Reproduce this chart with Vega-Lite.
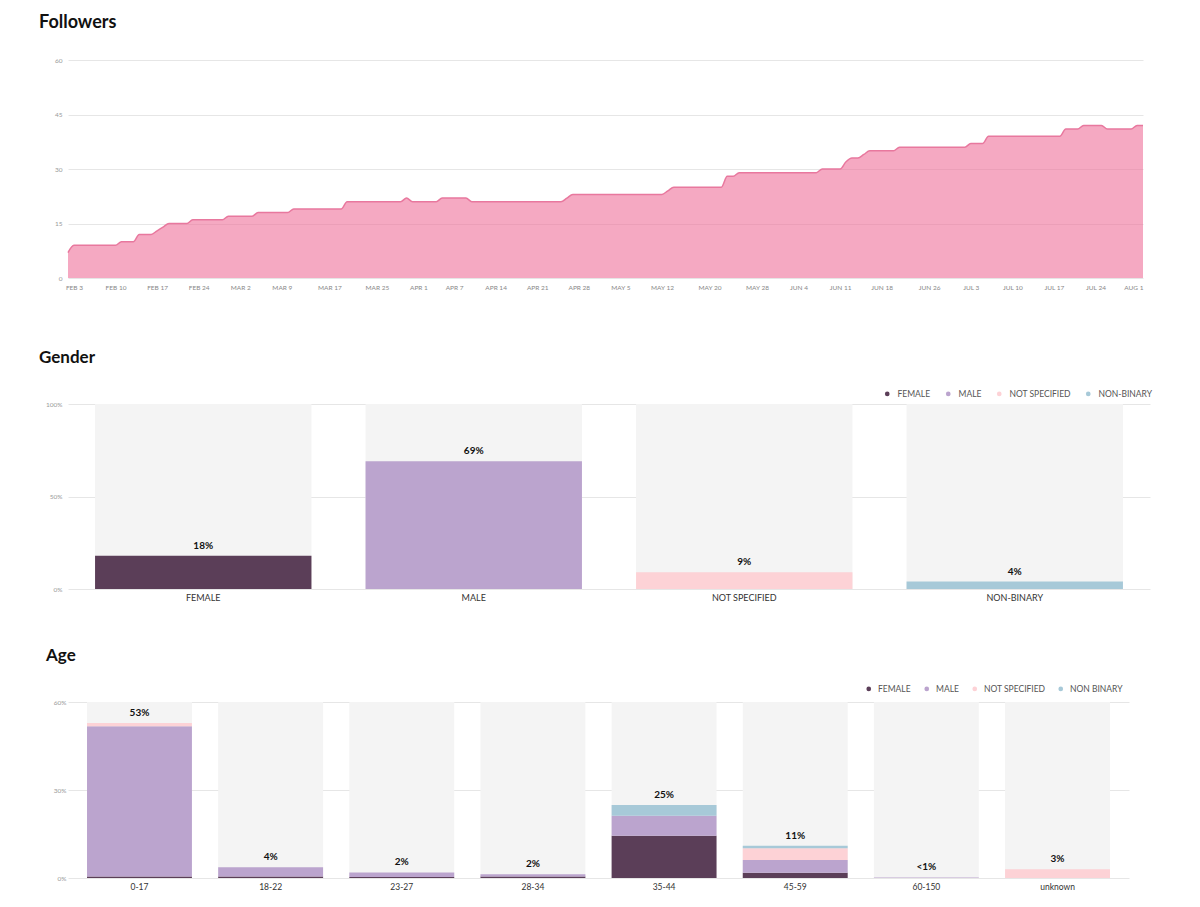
{
  "$schema": "https://vega.github.io/schema/vega-lite/v6.json",
  "background": "white",
  "padding": {"left": 39, "top": 14, "right": 5, "bottom": 5},
  "spacing": 40,
  "config": {"view": {"stroke": null}, "font": "Lato"},
  "resolve": {"scale": {"color": "independent"}, "legend": {"color": "independent"}},
  "datasets": {
    "followers": [
      {"date": "2020-02-02", "followers": 7},
      {"date": "2020-02-03", "followers": 9},
      {"date": "2020-02-10", "followers": 9},
      {"date": "2020-02-11", "followers": 10},
      {"date": "2020-02-13", "followers": 10},
      {"date": "2020-02-14", "followers": 12},
      {"date": "2020-02-16", "followers": 12},
      {"date": "2020-02-17", "followers": 13},
      {"date": "2020-02-18", "followers": 14},
      {"date": "2020-02-19", "followers": 15},
      {"date": "2020-02-22", "followers": 15},
      {"date": "2020-02-23", "followers": 16},
      {"date": "2020-02-28", "followers": 16},
      {"date": "2020-02-29", "followers": 17},
      {"date": "2020-03-04", "followers": 17},
      {"date": "2020-03-05", "followers": 18},
      {"date": "2020-03-10", "followers": 18},
      {"date": "2020-03-11", "followers": 19},
      {"date": "2020-03-19", "followers": 19},
      {"date": "2020-03-20", "followers": 21},
      {"date": "2020-03-29", "followers": 21},
      {"date": "2020-03-30", "followers": 22},
      {"date": "2020-03-31", "followers": 21},
      {"date": "2020-04-04", "followers": 21},
      {"date": "2020-04-05", "followers": 22},
      {"date": "2020-04-09", "followers": 22},
      {"date": "2020-04-10", "followers": 21},
      {"date": "2020-04-25", "followers": 21},
      {"date": "2020-04-26", "followers": 22},
      {"date": "2020-04-27", "followers": 23},
      {"date": "2020-05-12", "followers": 23},
      {"date": "2020-05-13", "followers": 24},
      {"date": "2020-05-14", "followers": 25},
      {"date": "2020-05-22", "followers": 25},
      {"date": "2020-05-23", "followers": 28},
      {"date": "2020-05-24", "followers": 28},
      {"date": "2020-05-25", "followers": 29},
      {"date": "2020-06-07", "followers": 29},
      {"date": "2020-06-08", "followers": 30},
      {"date": "2020-06-11", "followers": 30},
      {"date": "2020-06-12", "followers": 32},
      {"date": "2020-06-13", "followers": 33},
      {"date": "2020-06-14", "followers": 33},
      {"date": "2020-06-15", "followers": 34},
      {"date": "2020-06-16", "followers": 35},
      {"date": "2020-06-20", "followers": 35},
      {"date": "2020-06-21", "followers": 36},
      {"date": "2020-07-02", "followers": 36},
      {"date": "2020-07-03", "followers": 37},
      {"date": "2020-07-05", "followers": 37},
      {"date": "2020-07-06", "followers": 39},
      {"date": "2020-07-18", "followers": 39},
      {"date": "2020-07-19", "followers": 41},
      {"date": "2020-07-21", "followers": 41},
      {"date": "2020-07-22", "followers": 42},
      {"date": "2020-07-25", "followers": 42},
      {"date": "2020-07-26", "followers": 41},
      {"date": "2020-07-30", "followers": 41},
      {"date": "2020-07-31", "followers": 42},
      {"date": "2020-08-01", "followers": 42}
    ],
    "gender": [
      {"gender": "FEMALE", "pct": 18, "label": "18%"},
      {"gender": "MALE", "pct": 69, "label": "69%"},
      {"gender": "NOT SPECIFIED", "pct": 9, "label": "9%"},
      {"gender": "NON-BINARY", "pct": 4, "label": "4%"}
    ],
    "age": [
      {"age": "0-17", "gender": "FEMALE", "pct": 0.5},
      {"age": "0-17", "gender": "MALE", "pct": 51.2},
      {"age": "0-17", "gender": "NOT SPECIFIED", "pct": 1.1},
      {"age": "18-22", "gender": "FEMALE", "pct": 0.5},
      {"age": "18-22", "gender": "MALE", "pct": 3.2},
      {"age": "23-27", "gender": "FEMALE", "pct": 0.3},
      {"age": "23-27", "gender": "MALE", "pct": 1.6},
      {"age": "28-34", "gender": "FEMALE", "pct": 0.5},
      {"age": "28-34", "gender": "MALE", "pct": 0.8},
      {"age": "35-44", "gender": "FEMALE", "pct": 14.4},
      {"age": "35-44", "gender": "MALE", "pct": 6.8},
      {"age": "35-44", "gender": "NON BINARY", "pct": 3.7},
      {"age": "45-59", "gender": "FEMALE", "pct": 1.8},
      {"age": "45-59", "gender": "MALE", "pct": 4.3},
      {"age": "45-59", "gender": "NOT SPECIFIED", "pct": 4.0},
      {"age": "45-59", "gender": "NON BINARY", "pct": 0.9},
      {"age": "60-150", "gender": "MALE", "pct": 0.2},
      {"age": "unknown", "gender": "NOT SPECIFIED", "pct": 3.0}
    ],
    "ageTotals": [
      {"age": "0-17", "total": 52.8, "label": "53%"},
      {"age": "18-22", "total": 3.7, "label": "4%"},
      {"age": "23-27", "total": 1.9, "label": "2%"},
      {"age": "28-34", "total": 1.3, "label": "2%"},
      {"age": "35-44", "total": 24.9, "label": "25%"},
      {"age": "45-59", "total": 11.0, "label": "11%"},
      {"age": "60-150", "total": 0.2, "label": "<1%"},
      {"age": "unknown", "total": 3.0, "label": "3%"}
    ]
  },
  "vconcat": [
    {
      "title": {"text": "Followers", "anchor": "start", "frame": "group", "dx": -29, "offset": 25, "fontSize": 18, "fontWeight": 700, "font": "Lato", "color": "#111111", "baseline": "top"},
      "width": 1075,
      "height": 218,
      "data": {"name": "followers"},
      "mark": {"type": "area", "interpolate": "monotone", "color": "#EE709A", "fillOpacity": 0.6, "line": {"color": "#E8789E", "strokeWidth": 1.5}},
      "encoding": {
        "x": {
          "field": "date", "type": "temporal", "title": null,
          "scale": {"type": "utc"},
          "axis": {
            "values": [
              {"year": 2020, "month": 2, "date": 3, "utc": true},
              {"year": 2020, "month": 2, "date": 10, "utc": true},
              {"year": 2020, "month": 2, "date": 17, "utc": true},
              {"year": 2020, "month": 2, "date": 24, "utc": true},
              {"year": 2020, "month": 3, "date": 2, "utc": true},
              {"year": 2020, "month": 3, "date": 9, "utc": true},
              {"year": 2020, "month": 3, "date": 17, "utc": true},
              {"year": 2020, "month": 3, "date": 25, "utc": true},
              {"year": 2020, "month": 4, "date": 1, "utc": true},
              {"year": 2020, "month": 4, "date": 7, "utc": true},
              {"year": 2020, "month": 4, "date": 14, "utc": true},
              {"year": 2020, "month": 4, "date": 21, "utc": true},
              {"year": 2020, "month": 4, "date": 28, "utc": true},
              {"year": 2020, "month": 5, "date": 5, "utc": true},
              {"year": 2020, "month": 5, "date": 12, "utc": true},
              {"year": 2020, "month": 5, "date": 20, "utc": true},
              {"year": 2020, "month": 5, "date": 28, "utc": true},
              {"year": 2020, "month": 6, "date": 4, "utc": true},
              {"year": 2020, "month": 6, "date": 11, "utc": true},
              {"year": 2020, "month": 6, "date": 18, "utc": true},
              {"year": 2020, "month": 6, "date": 26, "utc": true},
              {"year": 2020, "month": 7, "date": 3, "utc": true},
              {"year": 2020, "month": 7, "date": 10, "utc": true},
              {"year": 2020, "month": 7, "date": 17, "utc": true},
              {"year": 2020, "month": 7, "date": 24, "utc": true},
              {"year": 2020, "month": 8, "date": 1, "utc": true}
            ],
            "labelExpr": "upper(utcFormat(datum.value, '%b %-d'))",
            "grid": false, "ticks": false, "domain": false,
            "labelFontSize": 6.5, "labelColor": "#888888", "labelPadding": 6,
            "labelFlush": 2, "labelOverlap": false, "labelBound": false,
            "minExtent": 30
          }
        },
        "y": {
          "field": "followers", "type": "quantitative", "title": null,
          "scale": {"domain": [0, 60]},
          "axis": {
            "values": [0, 15, 30, 45, 60],
            "grid": true, "gridColor": "#e6e6e6", "ticks": false, "domain": false,
            "labelFontSize": 6.5, "labelColor": "#999999", "labelPadding": 6
          }
        }
      }
    },
    {
      "title": {"text": "Gender", "anchor": "start", "frame": "group", "dx": -29, "offset": 23, "fontSize": 17, "fontWeight": 700, "font": "Lato", "color": "#111111", "baseline": "top"},
      "width": 1082,
      "height": 185,
      "data": {"name": "gender"},
      "encoding": {
        "x": {
          "field": "gender", "type": "nominal", "title": null,
          "scale": {"domain": ["FEMALE", "MALE", "NOT SPECIFIED", "NON-BINARY"], "paddingInner": 0.2, "paddingOuter": 0.1},
          "axis": {"labelAngle": 0, "ticks": false, "domain": false, "grid": false, "labelFontSize": 9, "labelColor": "#333333", "labelPadding": 4, "minExtent": 17}
        }
      },
      "layer": [
        {
          "mark": {"type": "bar", "color": "#f4f4f4"},
          "encoding": {
            "y": {
              "datum": 100, "type": "quantitative", "title": null,
              "scale": {"domain": [0, 100]},
              "axis": {"values": [0, 50, 100], "labelExpr": "datum.value + '%'", "grid": true, "gridColor": "#e6e6e6", "ticks": false, "domain": false, "labelFontSize": 6.5, "labelColor": "#999999", "labelPadding": 6}
            }
          }
        },
        {
          "mark": {"type": "bar"},
          "encoding": {
            "y": {"field": "pct", "type": "quantitative", "title": null},
            "color": {
              "field": "gender", "type": "nominal",
              "scale": {"domain": ["FEMALE", "MALE", "NOT SPECIFIED", "NON-BINARY"], "range": ["#5B3E58", "#BBA4CE", "#FDD2D6", "#A7C9D8"]},
              "legend": {"title": null, "orient": "none", "legendX": 815, "legendY": -14.5, "direction": "horizontal", "symbolType": "circle", "symbolSize": 22, "symbolStrokeWidth": 0, "labelFontSize": 8.5, "labelColor": "#555555", "labelOffset": 6, "columnPadding": 13, "padding": 0}
            }
          }
        },
        {
          "mark": {"type": "text", "dy": -10, "fontWeight": "bold", "fontSize": 10, "color": "#111111", "baseline": "middle"},
          "encoding": {
            "y": {"field": "pct", "type": "quantitative", "title": null},
            "text": {"field": "label"}
          }
        }
      ]
    },
    {
      "title": {"text": "Age", "anchor": "start", "frame": "group", "dx": -22, "offset": 20, "fontSize": 17, "fontWeight": 700, "font": "Lato", "color": "#111111", "baseline": "top"},
      "width": 1061,
      "height": 176,
      "encoding": {
        "x": {
          "field": "age", "type": "nominal", "title": null,
          "scale": {"domain": ["0-17", "18-22", "23-27", "28-34", "35-44", "45-59", "60-150", "unknown"], "paddingInner": 0.2, "paddingOuter": 0.145},
          "axis": {"labelAngle": 0, "ticks": false, "domain": false, "grid": false, "labelFontSize": 8.5, "labelColor": "#333333", "labelPadding": 4}
        }
      },
      "layer": [
        {
          "data": {"name": "ageTotals"},
          "mark": {"type": "bar", "color": "#f4f4f4"},
          "encoding": {
            "y": {
              "datum": 60, "type": "quantitative", "title": null,
              "scale": {"domain": [0, 60]},
              "axis": {"values": [0, 30, 60], "labelExpr": "datum.value + '%'", "grid": true, "gridColor": "#e6e6e6", "ticks": false, "domain": false, "labelFontSize": 6.5, "labelColor": "#999999", "labelPadding": 2}
            }
          }
        },
        {
          "data": {"name": "age"},
          "transform": [
            {"calculate": "indexof(['FEMALE', 'MALE', 'NOT SPECIFIED', 'NON BINARY'], datum.gender)", "as": "stackRank"}
          ],
          "mark": {"type": "bar"},
          "encoding": {
            "y": {"field": "pct", "type": "quantitative", "title": null, "stack": "zero"},
            "order": {"field": "stackRank", "type": "quantitative", "sort": "ascending"},
            "color": {
              "field": "gender", "type": "nominal",
              "scale": {"domain": ["FEMALE", "MALE", "NOT SPECIFIED", "NON BINARY"], "range": ["#5B3E58", "#BBA4CE", "#FDD2D6", "#A7C9D8"]},
              "legend": {"title": null, "orient": "none", "legendX": 796.5, "legendY": -17.5, "direction": "horizontal", "symbolType": "circle", "symbolSize": 22, "symbolStrokeWidth": 0, "labelFontSize": 8.5, "labelColor": "#555555", "labelOffset": 5, "columnPadding": 11, "padding": 0}
            }
          }
        },
        {
          "data": {"name": "ageTotals"},
          "mark": {"type": "text", "dy": -10, "fontWeight": "bold", "fontSize": 10, "color": "#111111", "baseline": "middle"},
          "encoding": {
            "y": {"field": "total", "type": "quantitative", "title": null},
            "text": {"field": "label"}
          }
        }
      ]
    }
  ]
}
